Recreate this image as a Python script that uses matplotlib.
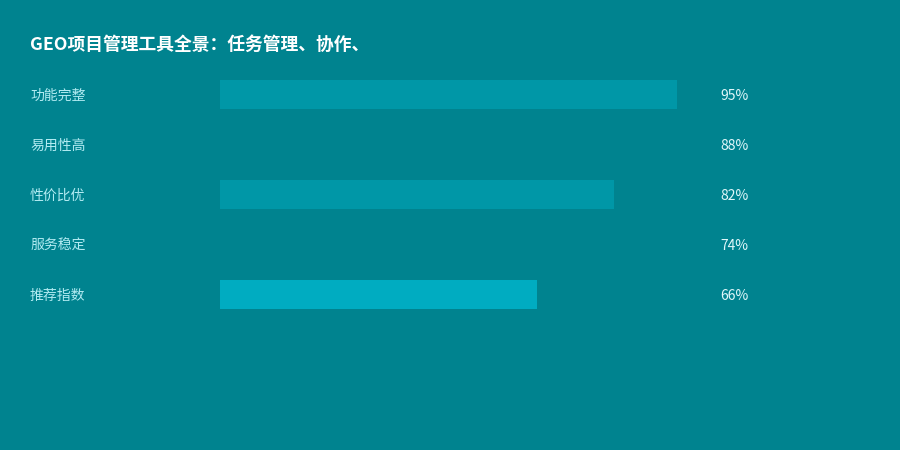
import matplotlib
matplotlib.use("Agg")
import matplotlib.pyplot as plt
import matplotlib.transforms as mtransforms

plt.rcParams['font.family'] = ['Noto Sans CJK SC', 'DejaVu Sans']

title = "GEO项目管理工具全景：任务管理、协作、"
categories = ["功能完整", "易用性高", "性价比优", "服务稳定", "推荐指数"]
values = [95, 88, 82, 74, 66]
bar_colors = ["#0097A7", "#00838F", "#0097A7", "#00838F", "#00ACC1"]

BG = "#00838F"
fig = plt.figure(figsize=(9, 4.5), dpi=100, facecolor=BG)
ax = fig.add_axes([220/900, 1 - 319.5/450, 481/900, 250/450])
ax.set_facecolor(BG)
ypos = list(range(len(categories)))
ax.barh(ypos, values, height=0.57, color=bar_colors, left=0)
ax.set_xlim(0, 100)
ax.set_ylim(len(categories) - 0.5, -0.5)
ax.axis('off')

trans = mtransforms.blended_transform_factory(fig.transFigure, ax.transData)
offset = mtransforms.ScaledTranslation(0, -1.5/100, fig.dpi_scale_trans)
for y, c, v in zip(ypos, categories, values):
    ax.text(30/900, y, c, transform=trans + offset, ha='left', va='center',
            fontsize=10, color="#B2EBF2")
    ax.text(720/900, y, f"{v}%", transform=trans + offset, ha='left', va='center',
            fontsize=10, color="#E0F7FA")

fig.text(30/900, 1 - 45/450, title, ha='left', va='center', fontsize=12.8,
         fontweight='bold', color='white')

fig.savefig("out.png", dpi=100, facecolor=BG)
